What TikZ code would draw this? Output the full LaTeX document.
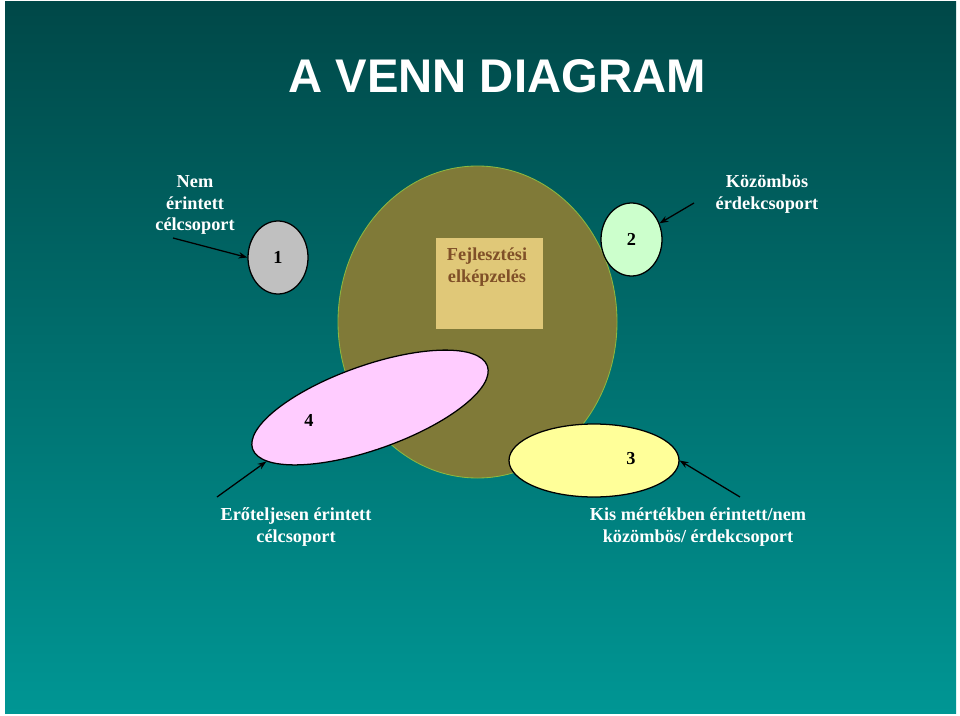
\documentclass[tikz,border=0pt]{standalone}
\usepackage{fontspec}
\setmainfont{Liberation Serif}
\newfontfamily\titlefont{Liberation Sans}
\usetikzlibrary{
  arrows.meta,
  shapes.geometric,
  positioning
}
\definecolor{bgtop}{RGB}{0,72,72}
\definecolor{bgbottom}{RGB}{0,150,148}
\definecolor{bigfill}{RGB}{128,122,56}
\definecolor{bigedge}{RGB}{140,184,64}
\definecolor{ideafill}{RGB}{224,200,120}
\definecolor{ideatext}{RGB}{128,80,40}
\definecolor{grayfill}{RGB}{192,192,192}
\definecolor{mintfill}{RGB}{204,255,204}
\definecolor{yellowfill}{RGB}{255,255,153}
\definecolor{pinkfill}{RGB}{255,204,255}
\tikzset{
  >={Stealth[length=2.2mm,width=1.6mm]},
  line cap=round,
  line join=round,
  every picture/.style={line width=0.9pt},
  group/.style={draw=black, ellipse, inner sep=0pt},
  note/.style={text=white, align=center, font=\bfseries\fontsize{13}{15.6}\selectfont},
  num/.style={font=\bfseries\fontsize{13}{15.6}\selectfont},
  titletext/.style={text=white, font=\titlefont\bfseries\fontsize{33.6}{40}\selectfont},
  arrow/.style={->, line width=0.9pt}
}
\begin{document}
\begin{tikzpicture}[x=0.25mm, y=-0.25mm]
  \fill[white] (0,0) rectangle (960,716);
  \shade[top color=bgtop, bottom color=bgbottom] (5,2) rectangle (956,713);

  \node[titletext] (title) at (497,76) {A VENN DIAGRAM};

  \node[ellipse, draw=bigedge, fill=bigfill, line width=0.6pt, inner sep=0pt,
        minimum width=69.75mm, minimum height=78mm] (big) at (477.5,322) {};
  \node[fill=ideafill, minimum width=26.75mm, minimum height=22.75mm] (idea) at (489.5,283.5) {};
  \node[num, text=ideatext, align=center] (ideatext) at (487,267) {Fejlesztési\\elképzelés};

  \node[group, fill=grayfill, minimum width=15mm, minimum height=18.25mm, num] (egy) at (278,257.5) {1};
  \node[group, fill=mintfill, minimum width=15.25mm, minimum height=18.25mm, num] (ketto) at (631.5,239.5) {2};
  \node[group, fill=yellowfill, minimum width=42.5mm, minimum height=18.25mm] (harom) at (594,460.5) {};
  \node[group, fill=pinkfill, minimum width=62.25mm, minimum height=21mm, rotate=19.5] (negy) at (370,407.5) {};
  \node[num] (haromnum) at (631,459) {3};
  \node[num] (negynum) at (309,420) {4};

  \node[note] (nem) at (195,205) {Nem\\érintett\\célcsoport};
  \node[note] (kozombos) at (767,194) {Közömbös\\érdekcsoport};
  \node[note] (eros) at (296,527) {Erőteljesen érintett\\célcsoport};
  \node[note] (kis) at (698,527) {Kis mértékben érintett/nem\\közömbös/ érdekcsoport};

  \coordinate (nemfrom) at (173,238);
  \coordinate (kozfrom) at (694,203);
  \coordinate (erosfrom) at (217,497);
  \coordinate (kisfrom) at (740,497);

  \draw[arrow] (nemfrom) -- (egy.west);
  \draw[arrow] (kozfrom) -- (ketto.30);
  \draw[arrow] (erosfrom) -- (negy.188);
  \draw[arrow] (kisfrom) -- (harom.east);
\end{tikzpicture}
\end{document}
